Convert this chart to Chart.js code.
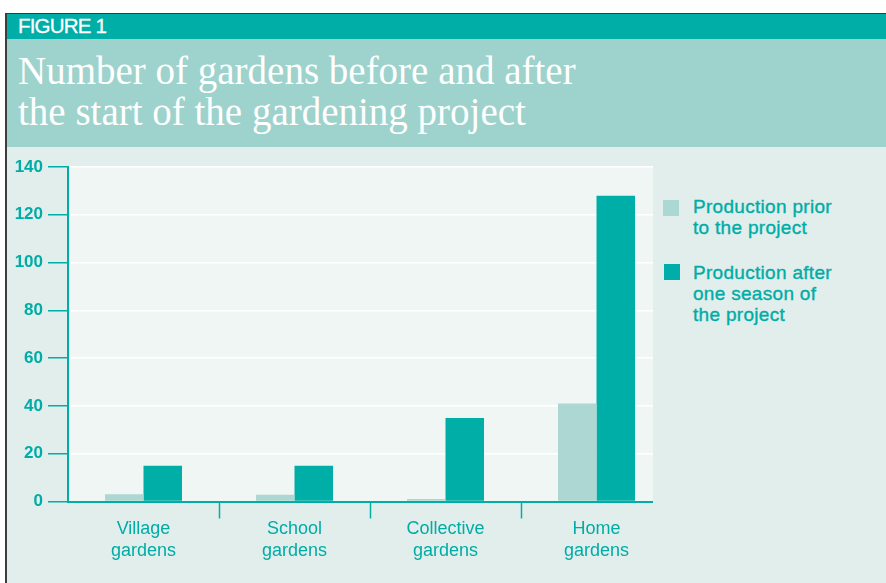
<!DOCTYPE html>
<html>
<head>
<meta charset="utf-8">
<script src="https://cdn.jsdelivr.net/npm/chart.js@4"></script>
<style>
html,body{margin:0;padding:0;background:#ffffff;width:886px;height:583px;overflow:hidden;}
#frame{position:absolute;left:5px;top:13px;width:881px;height:570px;background:#e1eeec;border-left:2px solid #3a3f3e;border-top:1px solid #23403d;box-sizing:border-box;}
#band{position:absolute;left:7px;top:14px;width:879px;height:25px;background:#00aea8;}
#figlabel{position:absolute;left:18px;top:16px;color:#ffffff;font-family:'Liberation Sans',Arial,sans-serif;font-size:20.5px;line-height:20.5px;letter-spacing:-0.8px;white-space:nowrap;-webkit-text-stroke:0.3px #ffffff;}
#titleband{position:absolute;left:7px;top:39px;width:879px;height:108px;background:#9dd3cc;}
#title{position:absolute;left:18px;top:50px;color:#ffffff;font-family:'Liberation Serif','Times New Roman',serif;font-size:39px;line-height:41px;white-space:nowrap;}
#chartwrap{position:absolute;left:7px;top:147px;width:879px;height:436px;}
#legend{position:absolute;left:653px;top:147px;width:233px;height:436px;background:#e1eeec;}
.lbox{position:absolute;width:16px;height:16px;}
.ltext{position:absolute;left:40px;color:#00aca6;font-family:'Liberation Sans',Arial,sans-serif;font-size:19px;line-height:21px;letter-spacing:0.3px;white-space:nowrap;-webkit-text-stroke:0.35px #00aca6;}
</style>
</head>
<body>
<div id="frame"></div>
<div id="band"></div>
<div id="figlabel">FIGURE 1</div>
<div id="titleband"></div>
<div id="title">Number of gardens before and after<br>the start of the gardening project</div>
<div id="chartwrap"><canvas id="c" width="879" height="436"></canvas></div>
<div id="legend"></div>
<script>
// ---- data ----
const categories = [["Village", "gardens"], ["School", "gardens"], ["Collective", "gardens"], ["Home", "gardens"]];
const priorValues = [3, 2.8, 1, 41];
const afterValues = [15, 15, 35, 128];
const seriesLines = [["Production prior", "to the project"], ["Production after", "one season of", "the project"]];
const yTickValues = [0, 20, 40, 60, 80, 100, 120, 140];

// ---- styles ----
const TEAL = '#00aea8';
const TEXT = '#00aca6';
const LIGHT = '#acd7d2';
const seriesColors = [LIGHT, TEAL];

// legend (HTML, real text)
const legend = document.getElementById('legend');
const legendTops = [48.9, 114.9];
const boxTops = [53, 117];
const boxLefts = [10, 11];
seriesLines.forEach((lines, i) => {
  const b = document.createElement('div');
  b.className = 'lbox';
  b.style.left = boxLefts[i] + 'px';
  b.style.top = boxTops[i] + 'px';
  b.style.background = seriesColors[i];
  legend.appendChild(b);
  const t = document.createElement('div');
  t.className = 'ltext';
  t.style.top = legendTops[i] + 'px';
  t.innerHTML = lines.join('<br>');
  legend.appendChild(t);
});

const plotBg = {
  id: 'plotBg',
  beforeDraw(chart) {
    const { ctx, chartArea: a } = chart;
    ctx.save();
    ctx.fillStyle = '#eff6f4';
    ctx.fillRect(a.left, a.top, a.right - a.left, a.bottom - a.top);
    ctx.restore();
  }
};

new Chart(document.getElementById('c'), {
  type: 'bar',
  data: {
    labels: categories,
    datasets: [
      { label: seriesLines[0].join(' '), data: priorValues, backgroundColor: seriesColors[0], borderWidth: 0, categoryPercentage: 0.51, barPercentage: 1.0 },
      { label: seriesLines[1].join(' '), data: afterValues, backgroundColor: seriesColors[1], borderWidth: 0, categoryPercentage: 0.51, barPercentage: 1.0 }
    ]
  },
  options: {
    responsive: false,
    animation: false,
    devicePixelRatio: 1,
    layout: { padding: { top: 20, right: 214, bottom: 21.5, left: 0 } },
    plugins: { legend: { display: false }, tooltip: { enabled: false }, title: { display: false } },
    scales: {
      x: {
        grid: {
          offset: true,
          drawOnChartArea: false,
          drawTicks: true,
          tickLength: 17,
          tickWidth: 1.5,
          tickColor: (ctx) => (ctx.index >= 1 && ctx.index <= 3) ? TEAL : 'rgba(0,0,0,0)'
        },
        border: { color: TEAL, width: 2 },
        ticks: {
          color: TEXT,
          font: { family: "'Liberation Sans', Arial, sans-serif", size: 18 },
          padding: 0,
          maxRotation: 0,
          autoSkip: false
        },
        afterFit: (s) => { s.height = 60; }
      },
      y: {
        min: 0,
        max: 140,
        afterBuildTicks: (s) => { s.ticks = yTickValues.map(v => ({ value: v })); },
        ticks: {
          color: TEXT,
          font: { family: "'Liberation Sans', Arial, sans-serif", size: 17, weight: 'bold' },
          padding: 5
        },
        grid: {
          color: (ctx) => (ctx.tick && ctx.tick.value === 0) ? TEAL : '#ffffff',
          lineWidth: 1.5,
          tickLength: 20,
          tickColor: TEAL,
          tickWidth: 1.5
        },
        border: { color: TEAL, width: 2 },
        afterFit: (s) => { s.width = 61; }
      }
    }
  },
  plugins: [plotBg]
});
</script>
</body>
</html>
